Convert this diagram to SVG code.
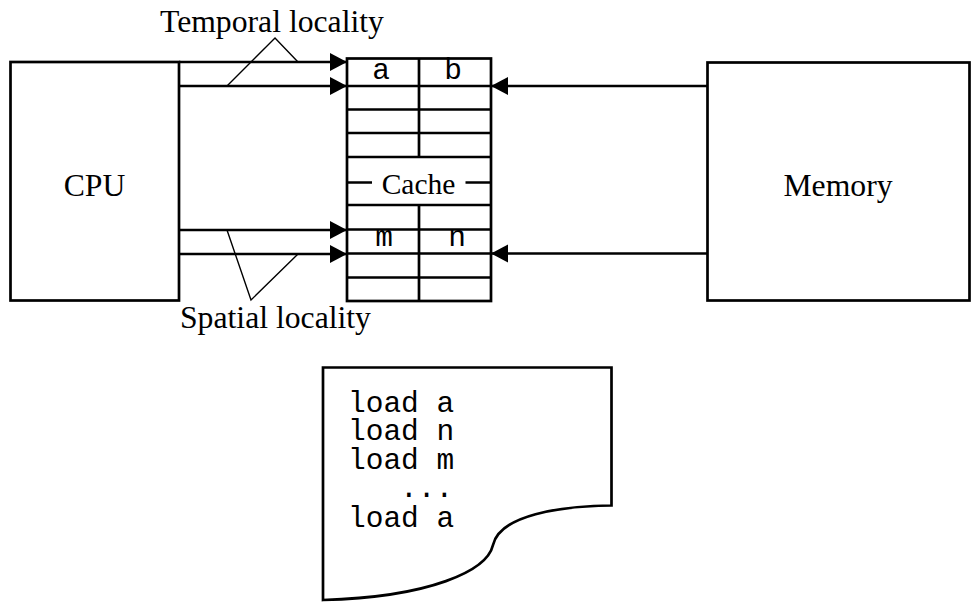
<svg xmlns="http://www.w3.org/2000/svg" width="973" height="602" viewBox="0 0 973 602">
<style>
.box{fill:#fff;stroke:#000;stroke-width:2.7}
.ln{fill:none;stroke:#000;stroke-width:2.7}
.thin{fill:none;stroke:#000;stroke-width:1.4}
.serif{font-family:"Liberation Serif","Times New Roman",serif;font-size:31.7px;fill:#000}
.mono{font-family:"Liberation Mono","Courier New",monospace;font-size:29.5px;fill:#000}
</style>
<defs>
<marker id="ah" markerUnits="userSpaceOnUse" markerWidth="18" markerHeight="20" viewBox="0 0 18 20" refX="17" refY="10" orient="auto">
<path d="M0,1 L17,10 L0,19 Z" fill="#000"/>
</marker>
</defs>
<rect width="973" height="602" fill="#fff"/>
<g id="cpu">
<rect class="box" x="10.5" y="62" width="168.5" height="238.5"/>
<text class="serif" x="94.5" y="195.5" text-anchor="middle">CPU</text>
</g>
<g id="memory">
<rect class="box" x="707.5" y="62.5" width="262" height="238"/>
<text class="serif" x="838" y="195.5" text-anchor="middle">Memory</text>
</g>
<g id="cache">
<rect class="box" x="347" y="58.5" width="144" height="242.5"/>
<path class="ln" d="M347,86H491M347,109.5H491M347,133H491M347,157H491M347,205H491M347,229.5H491M347,253.5H491M347,277.5H491M419,58.5V157M419,205V301M347,182.5H372M465.5,182.5H491"/>
<text class="serif" x="418.5" y="194" text-anchor="middle" style="font-size:29.5px">Cache</text>
<text class="mono" x="381" y="79" text-anchor="middle">a</text>
<text class="mono" x="453" y="79" text-anchor="middle">b</text>
<text class="mono" x="384" y="246" text-anchor="middle">m</text>
<text class="mono" x="457" y="246" text-anchor="middle">n</text>
</g>
<g id="program">
<path class="box" d="M323,367.5H611.5V505.5C560,506 500,515 493,545C487,571 430,597 323,600Z"/>
<text class="mono" x="348" y="411.5">load a</text>
<text class="mono" x="348" y="440">load n</text>
<text class="mono" x="348" y="468.5">load m</text>
<text class="mono" x="400" y="497">...</text>
<text class="mono" x="348" y="526.5">load a</text>
</g>
<g id="temporal-label">
<text class="serif" x="160" y="32">Temporal locality</text>
<path class="thin" d="M227,86L275,38L298,62"/>
</g>
<g id="spatial-label">
<text class="serif" x="180" y="328">Spatial locality</text>
<path class="thin" d="M227,230L251,300L298,254"/>
</g>
<g id="connectors">
<path class="ln" d="M179,62H347" marker-end="url(#ah)"/>
<path class="ln" d="M179,86H347" marker-end="url(#ah)"/>
<path class="ln" d="M179,230H347" marker-end="url(#ah)"/>
<path class="ln" d="M179,254H347" marker-end="url(#ah)"/>
<path class="ln" d="M707.5,86H491" marker-end="url(#ah)"/>
<path class="ln" d="M707.5,253.5H491" marker-end="url(#ah)"/>
</g>
</svg>
